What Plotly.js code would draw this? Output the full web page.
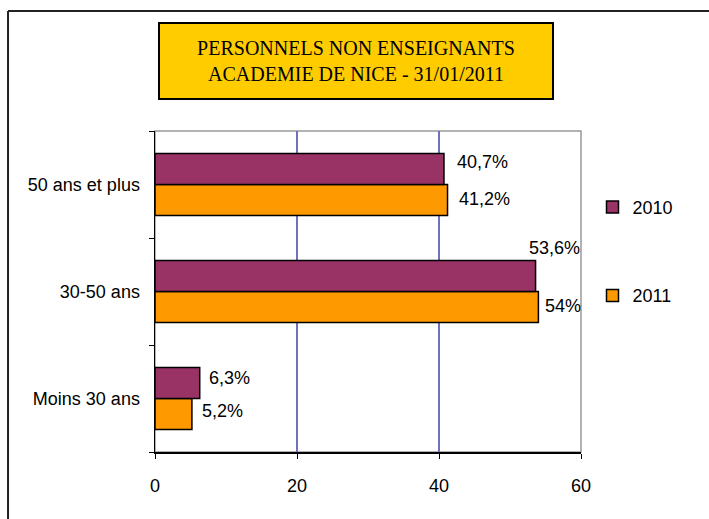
<!DOCTYPE html>
<html>
<head>
<meta charset="utf-8">
<script src="https://cdn.plot.ly/plotly-3.0.1.min.js"></script>
<style>
  html, body { margin: 0; padding: 0; background: #fff; }
  #chart { width: 709px; height: 519px; }
</style>
</head>
<body>
<div id="chart"></div>
<script>
// ---- data ----
const categories = ['Moins 30 ans', '30-50 ans', '50 ans et plus'];
const series2010 = [6.3, 53.6, 40.7];
const series2011 = [5.2, 54, 41.2];
const labels2010 = ['6,3%', '53,6%', '40,7%'];
const labels2011 = ['5,2%', '54%', '41,2%'];
const seriesNames = ['2010', '2011'];
const xTicks = [0, 20, 40, 60];
const titleLines = ['PERSONNELS NON ENSEIGNANTS', 'ACADEMIE DE NICE - 31/01/2011'];

// ---- style ----
const col2010 = '#993366';
const col2011 = '#FF9900';
const font = 'Liberation Sans, Arial, sans-serif';
const fs = 18;
const bargap = 0.42;
const half = (1 - bargap) / 4; // offset of each bar centre from category centre
// label offsets (px): [xshift, yshift]
const off2010 = [[7, 5], [-9, 28], [11, 7]];
const off2011 = [[8, 3], [5, 1], [9, 1]];

const traces = [
  {
    type: 'bar', orientation: 'h', name: seriesNames[1], legendgroup: 'b', legendrank: 2,
    y: categories, x: series2011,
    marker: { color: col2011, line: { color: '#000', width: 1.5 } },
    hoverinfo: 'none'
  },
  {
    type: 'bar', orientation: 'h', name: seriesNames[0], legendgroup: 'a', legendrank: 1,
    y: categories, x: series2010,
    marker: { color: col2010, line: { color: '#000', width: 1.5 } },
    hoverinfo: 'none'
  }
];

const annotations = [];
categories.forEach((c, i) => {
  annotations.push({
    xref: 'x', yref: 'y', x: series2010[i], y: i + half,
    text: labels2010[i], showarrow: false, xanchor: 'left', yanchor: 'middle',
    xshift: off2010[i][0], yshift: off2010[i][1],
    font: { family: font, size: fs, color: '#000' }
  });
  annotations.push({
    xref: 'x', yref: 'y', x: series2011[i], y: i - half,
    text: labels2011[i], showarrow: false, xanchor: 'left', yanchor: 'middle',
    xshift: off2011[i][0], yshift: off2011[i][1],
    font: { family: font, size: fs, color: '#000' }
  });
});
annotations.push({
  xref: 'paper', yref: 'paper', x: 0.4707, y: 1.218,
  xanchor: 'center', yanchor: 'middle', showarrow: false,
  text: titleLines.join('<br>'),
  font: { family: 'Liberation Serif, Times New Roman, serif', size: 20, color: '#000' },
  bgcolor: '#FFCC00', bordercolor: '#000', borderwidth: 2, borderpad: 1,
  width: 390, height: 72, align: 'center'
});

const layout = {
  width: 709, height: 519,
  margin: { l: 155, r: 128, t: 131, b: 67 },
  paper_bgcolor: '#fff', plot_bgcolor: '#fff',
  barmode: 'group', bargap: bargap, bargroupgap: 0,
  showlegend: true,
  legend: {
    x: 1.027, y: 0.82, xanchor: 'left', yanchor: 'top',
    traceorder: 'grouped', tracegroupgap: 62,
    font: { family: font, size: fs, color: '#000' },
    itemwidth: 30
  },
  xaxis: {
    range: [0, 60], tickvals: xTicks, ticktext: xTicks.map(String),
    showgrid: true, gridcolor: '#7070C0', gridwidth: 1.3,
    zeroline: false, showline: true, linecolor: '#000', linewidth: 1.5,
    ticks: 'outside', ticklen: 5, tickcolor: '#000', tickwidth: 1,
    ticklabelstandoff: 12,
    tickfont: { family: font, size: fs, color: '#000' }, fixedrange: true
  },
  yaxis: {
    type: 'category', categoryorder: 'array', categoryarray: categories,
    range: [-0.5, 2.5],
    showgrid: false, zeroline: false, showline: true, linecolor: '#000', linewidth: 1.5,
    ticks: 'outside', tickson: 'boundaries', ticklen: 5, tickcolor: '#000', tickwidth: 1,
    ticklabelstandoff: 10,
    tickfont: { family: font, size: fs, color: '#000' }, fixedrange: true
  },
  shapes: [
    { type: 'rect', xref: 'paper', yref: 'paper', x0: 0, x1: 1, y0: 0, y1: 1,
      line: { color: '#999', width: 1.5 }, layer: 'below' },
    { type: 'line', xref: 'paper', yref: 'paper', x0: -0.345, x1: 1.35, y0: 1.3738, y1: 1.3738,
      line: { color: '#222', width: 2 } },
    { type: 'line', xref: 'paper', yref: 'paper', x0: -0.345, x1: -0.345, y0: 1.3738, y1: -0.3,
      line: { color: '#222', width: 2 } }
  ],
  annotations: annotations
};

Plotly.newPlot('chart', traces, layout, { staticPlot: true, displayModeBar: false });
</script>
</body>
</html>
